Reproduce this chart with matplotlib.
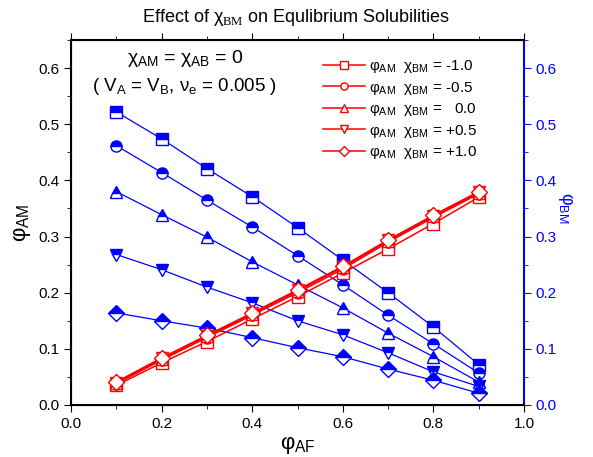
import matplotlib
matplotlib.use("Agg")
import matplotlib.pyplot as plt
import numpy as np
from matplotlib.ticker import MultipleLocator, FormatStrFormatter

plt.rcParams['font.family'] = ['Liberation Sans', 'DejaVu Sans']
plt.rcParams['mathtext.fontset'] = 'custom'
plt.rcParams['mathtext.rm'] = 'Liberation Sans'
plt.rcParams['mathtext.it'] = 'Liberation Sans'
plt.rcParams['mathtext.bf'] = 'Liberation Sans:bold'
plt.rcParams['mathtext.sf'] = 'Liberation Serif'

phi_AF = [0.1, 0.2, 0.3, 0.4, 0.5, 0.6, 0.7, 0.8, 0.9]
chi_BM_labels = ['-1.0', '-0.5', '  0.0', '+0.5', '+1.0']
markers = ['s', 'o', '^', 'v', 'D']
msizes = [8, 8, 9, 9, 8]

phi_AM_m10 = [0.035, 0.075, 0.113, 0.153, 0.193, 0.235, 0.278, 0.323, 0.370]
phi_AM_m05 = [0.038, 0.080, 0.120, 0.160, 0.200, 0.242, 0.290, 0.334, 0.376]
phi_AM_00 = [0.039, 0.082, 0.122, 0.162, 0.203, 0.245, 0.292, 0.336, 0.378]
phi_AM_p05 = [0.040, 0.083, 0.123, 0.163, 0.204, 0.246, 0.293, 0.337, 0.379]
phi_AM_p10 = [0.041, 0.084, 0.124, 0.164, 0.205, 0.247, 0.294, 0.338, 0.380]

phi_BM_m10 = [0.522, 0.474, 0.421, 0.371, 0.316, 0.258, 0.200, 0.139, 0.072]
phi_BM_m05 = [0.462, 0.414, 0.365, 0.317, 0.266, 0.214, 0.160, 0.109, 0.057]
phi_BM_00 = [0.380, 0.339, 0.299, 0.255, 0.214, 0.173, 0.128, 0.086, 0.041]
phi_BM_p05 = [0.268, 0.241, 0.210, 0.182, 0.150, 0.125, 0.093, 0.059, 0.033]
phi_BM_p10 = [0.164, 0.150, 0.137, 0.120, 0.102, 0.086, 0.064, 0.044, 0.021]

phi_AM = [phi_AM_m10, phi_AM_m05, phi_AM_00, phi_AM_p05, phi_AM_p10]
phi_BM = [phi_BM_m10, phi_BM_m05, phi_BM_00, phi_BM_p05, phi_BM_p10]

red = '#ff0000'
blue = '#0000ff'

fig = plt.figure(figsize=(5.93, 4.57), dpi=100)
ax = fig.add_axes([71/593, 1-405/457, (524-71)/593, (405-40)/457])
ax2 = ax.twinx()

handles = []
for i in range(5):
    h, = ax.plot(phi_AF, phi_AM[i], color=red, lw=1.1, marker=markers[i],
                 ms=msizes[i], mfc='white', mec=red, mew=1.0, zorder=3)
    handles.append(h)
    ax2.plot(phi_AF, phi_BM[i], color=blue, lw=0.9, marker=markers[i],
             ms=msizes[i], fillstyle='top', mfc=blue, mfcalt='white',
             mec=blue, mew=1.0)

ax.set_zorder(ax2.get_zorder() + 1)
ax.patch.set_visible(False)

for a in (ax, ax2):
    a.set_xlim(0, 1.0)
    a.set_ylim(0, 0.65)
    a.yaxis.set_major_locator(MultipleLocator(0.1))
    a.yaxis.set_minor_locator(MultipleLocator(0.05))
ax.xaxis.set_major_locator(MultipleLocator(0.2))
ax.xaxis.set_minor_locator(MultipleLocator(0.1))

ax.tick_params(which='both', direction='out', top=True, labelsize=11)
ax.tick_params(which='major', length=5)
ax.tick_params(which='minor', length=3)
ax2.tick_params(which='both', direction='out', colors=blue, labelsize=11)
ax2.tick_params(which='major', length=5)
ax2.tick_params(which='minor', length=3)
ax2.spines['right'].set_color(blue)
ax2.spines['right'].set_linewidth(1.5)
for s in ['left', 'bottom', 'top']:
    ax.spines[s].set_linewidth(1.5)
ax.spines['right'].set_visible(False)

ax.xaxis.set_major_formatter(FormatStrFormatter('%.1f'))
ax.yaxis.set_major_formatter(FormatStrFormatter('%.1f'))
ax2.yaxis.set_major_formatter(FormatStrFormatter('%.1f'))

ax.set_xlabel(r'$\varphi_{\mathrm{AF}}$', fontsize=16, labelpad=2)
ax.set_ylabel(r'$\varphi_{\mathrm{AM}}$', fontsize=16, labelpad=4)
ax2.set_ylabel(r'$\varphi_{\mathrm{BM}}$', fontsize=13, color=blue,
               rotation=-90, va='center')
ax2.yaxis.set_label_coords((566-71)/453, (405-208)/365)

fig.text(0.5, 1-17/457, r'Effect of $\chi_{\mathsf{BM}}$ on Equlibrium Solubilities',
         ha='center', va='center', fontsize=13)

ax.text(0.252, 0.617, r'$\chi_{\mathrm{AM}}$ = $\chi_{\mathrm{AB}}$ = 0',
        ha='center', va='center', fontsize=14)
ax.text(0.25, 0.567, r'( V$_{\mathrm{A}}$ = V$_{\mathrm{B}}$, $\nu_{\mathrm{e}}$ = 0.005 )',
        ha='center', va='center', fontsize=13.5)

labels = [r'$\varphi_{\mathrm{AM}}$  $\chi_{\mathrm{BM}}$ = ' + l for l in chi_BM_labels]
leg = ax.legend(handles, labels, loc='upper left', frameon=False,
                fontsize=11, handlelength=2.75, labelspacing=0.3,
                handletextpad=0.25, borderpad=0, borderaxespad=0,
                markerscale=0.65,
                bbox_to_anchor=((323-71)/453, (405-58)/365))

fig.savefig('out.png', dpi=100)
